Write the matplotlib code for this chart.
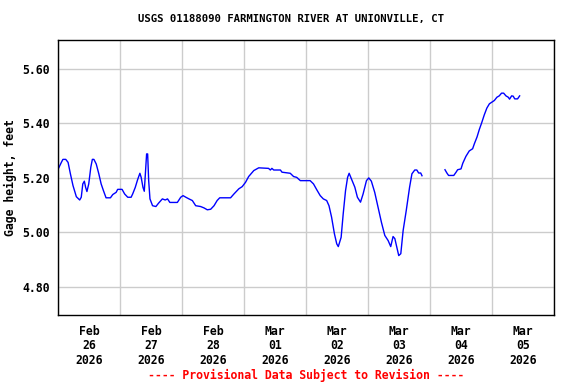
import numpy as np
import pandas as pd
import matplotlib
matplotlib.use('Agg')
import matplotlib.pyplot as plt
import matplotlib.dates as mdates

# Gage height readings, hours after 2026-02-26 00:00 and feet
hours_a = [0.3, 1.3, 1.9, 3.0, 3.9, 4.8, 5.8, 7.1, 8.4, 9.0, 9.6, 10.2, 10.7, 11.2, 11.9,
           12.7, 13.3, 13.9, 14.8, 15.8, 16.7, 17.6, 18.6, 20.3, 21.2, 22.5, 23.1, 24.8,
           25.8, 27.0, 28.3, 28.9, 29.9, 30.8, 31.7, 32.2, 32.9, 33.4, 33.9, 34.3, 34.7,
           35.1, 35.6, 36.6, 37.9, 38.9, 40.4, 41.5, 42.4, 43.3, 46.2, 47.5, 48.4, 49.5,
           50.7, 52.0, 53.3, 55.2, 56.5, 57.8, 59.1, 60.4, 61.6, 62.6, 66.8, 68.1, 70.0,
           71.3, 72.6, 73.8, 75.8, 77.7, 81.5, 82.2, 82.8, 83.5, 86.1, 86.7, 89.9, 91.2,
           92.4, 93.8, 97.6, 98.9, 100.2, 101.5, 102.7, 104.0, 104.9, 105.9, 107.0, 107.9,
           108.5, 109.6, 110.4, 111.3, 112.1, 112.7, 113.6, 114.9, 115.9, 117.1, 118.1,
           119.4, 120.3, 121.3, 122.6, 123.9, 125.2, 126.5, 127.8, 128.8, 129.7, 130.4,
           131.0, 131.9, 132.7, 133.6, 134.8, 136.1, 137.0, 138.1, 138.9, 139.6, 140.4,
           140.9]
gage_a = [5.237, 5.257, 5.268, 5.268, 5.257, 5.215, 5.172, 5.131, 5.119, 5.129, 5.178,
          5.188, 5.165, 5.150, 5.178, 5.239, 5.268, 5.268, 5.251, 5.215, 5.178, 5.153,
          5.127, 5.127, 5.139, 5.147, 5.158, 5.158, 5.141, 5.129, 5.129, 5.141, 5.165,
          5.193, 5.217, 5.202, 5.165, 5.151, 5.227, 5.288, 5.288, 5.190, 5.123, 5.098,
          5.095, 5.107, 5.123, 5.119, 5.123, 5.110, 5.110, 5.129, 5.135, 5.129, 5.123,
          5.117, 5.098, 5.095, 5.090, 5.083, 5.085, 5.098, 5.117, 5.127, 5.127, 5.141,
          5.160, 5.168, 5.184, 5.205, 5.227, 5.237, 5.235, 5.229, 5.235, 5.229, 5.229,
          5.221, 5.217, 5.205, 5.202, 5.190, 5.190, 5.178, 5.156, 5.135, 5.123, 5.117,
          5.098, 5.056, 4.995, 4.958, 4.948, 4.982, 5.068, 5.153, 5.202, 5.217, 5.196,
          5.166, 5.129, 5.111, 5.141, 5.190, 5.200, 5.188, 5.147, 5.092, 5.037, 4.989,
          4.970, 4.948, 4.985, 4.977, 4.952, 4.915, 4.922, 5.007, 5.080, 5.166, 5.215,
          5.229, 5.229, 5.218, 5.218, 5.208]

hours_b = [149.8, 150.6, 151.2, 153.2, 154.1, 154.7, 156.0, 156.7, 157.9, 159.2, 160.5,
           161.2, 162.2, 163.1, 164.0, 165.0, 166.0, 167.0, 167.8, 168.9, 169.9, 170.8,
           171.7, 172.5, 173.4, 174.3, 174.8, 175.6, 176.2, 176.8, 177.9, 178.7]
gage_b = [5.230, 5.217, 5.209, 5.209, 5.221, 5.230, 5.233, 5.254, 5.279, 5.299, 5.307,
          5.326, 5.350, 5.378, 5.402, 5.431, 5.456, 5.472, 5.477, 5.484, 5.496, 5.501,
          5.511, 5.511, 5.501, 5.496, 5.489, 5.501, 5.500, 5.490, 5.490, 5.501]

y_ticks = [4.80, 5.00, 5.20, 5.40, 5.60]

start = pd.Timestamp('2026-02-26')
t_a = start + pd.to_timedelta(hours_a, unit='h')
t_b = start + pd.to_timedelta(hours_b, unit='h')

font = 'DejaVu Sans Mono'
plt.rcParams['font.family'] = font
plt.rcParams['font.weight'] = 'bold'

fig = plt.figure(figsize=(5.76, 3.84), dpi=100)
ax = fig.add_axes([58 / 576, 69 / 384, 496 / 576, 275 / 384])

ax.plot(t_a, gage_a, color='#0000ff', lw=1.0)
ax.plot(t_b, gage_b, color='#0000ff', lw=1.0)

ax.set_xlim(start, start + pd.Timedelta(days=8))
ax.set_ylim(4.697, 5.706)

# gridlines at midnight, date labels at noon
ax.xaxis.set_major_locator(mdates.DayLocator())
ax.xaxis.set_major_formatter(plt.NullFormatter())
ax.xaxis.set_minor_locator(mdates.HourLocator(byhour=[12]))
ax.xaxis.set_minor_formatter(mdates.DateFormatter('%b\n%d\n%Y'))
ax.tick_params(axis='x', which='both', length=0, labelsize=8.3, pad=7)
for lbl in ax.get_xticklabels(minor=True):
    lbl.set_linespacing(1.15)

ax.set_yticks(y_ticks)
ax.yaxis.set_major_formatter(plt.FormatStrFormatter('%.2f'))
ax.tick_params(axis='y', length=0, labelsize=8.3, pad=6)

ax.grid(True, which='major', color='#cccccc', lw=1.0)
ax.set_axisbelow(True)
for s in ax.spines.values():
    s.set_color('black')
    s.set_linewidth(1.0)

ax.set_ylabel('Gage height, feet', fontsize=8.3, fontweight='bold', labelpad=4)
fig.text(0.505, 1 - 19 / 384, 'USGS 01188090 FARMINGTON RIVER AT UNIONVILLE, CT',
         ha='center', va='center', fontsize=7.7, fontweight='bold')
fig.text(0.532, 1 - 375 / 384, '---- Provisional Data Subject to Revision ----',
         ha='center', va='center', fontsize=8.3, color='#ff0000', fontweight='bold')

fig.savefig('out.png', dpi=100)
